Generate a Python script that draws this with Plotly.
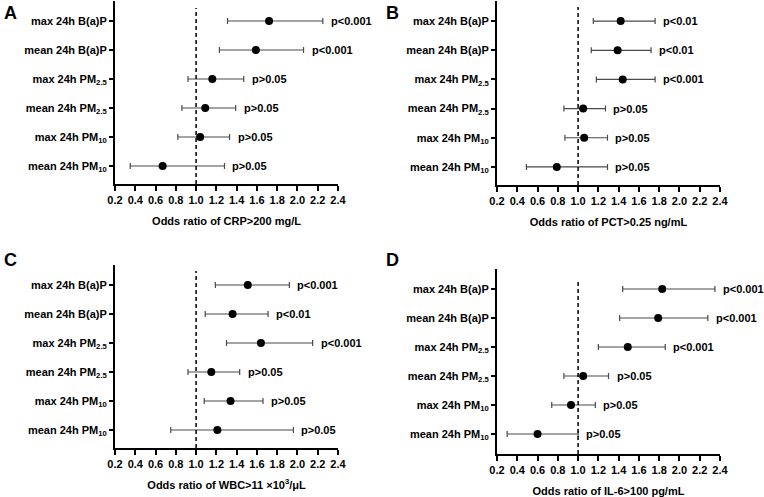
import plotly.graph_objects as go

# row labels, top to bottom
exposures = [
    "max 24h B(a)P",
    "mean 24h B(a)P",
    "max 24h PM<sub>2.5</sub>",
    "mean 24h PM<sub>2.5</sub>",
    "max 24h PM<sub>10</sub>",
    "mean 24h PM<sub>10</sub>",
]

panel_letters = ["A", "B", "C", "D"]
outcomes = [
    "Odds ratio of CRP>200 mg/L",
    "Odds ratio of PCT>0.25 ng/mL",
    "Odds ratio of WBC>11 ×10<sup>3</sup>/μL",
    "Odds ratio of IL-6>100 pg/mL",
]

# odds ratio, lower and upper 95% CI, p labels (per panel)
or_crp = [1.72, 1.59, 1.16, 1.09, 1.04, 0.67]
lo_crp = [1.31, 1.23, 0.92, 0.86, 0.82, 0.35]
hi_crp = [2.25, 2.06, 1.47, 1.39, 1.33, 1.28]
p_crp = ["p<0.001", "p<0.001", "p>0.05", "p>0.05", "p>0.05", "p>0.05"]

or_pct = [1.42, 1.39, 1.44, 1.05, 1.06, 0.79]
lo_pct = [1.15, 1.13, 1.18, 0.86, 0.87, 0.49]
hi_pct = [1.76, 1.72, 1.76, 1.27, 1.29, 1.29]
p_pct = ["p<0.01", "p<0.01", "p<0.001", "p>0.05", "p>0.05", "p>0.05"]

or_wbc = [1.51, 1.36, 1.64, 1.15, 1.34, 1.21]
lo_wbc = [1.19, 1.09, 1.30, 0.92, 1.08, 0.75]
hi_wbc = [1.92, 1.71, 2.15, 1.43, 1.66, 1.96]
p_wbc = ["p<0.001", "p<0.01", "p<0.001", "p>0.05", "p>0.05", "p>0.05"]

or_il6 = [1.83, 1.79, 1.49, 1.05, 0.93, 0.60]
lo_il6 = [1.44, 1.41, 1.20, 0.86, 0.74, 0.30]
hi_il6 = [2.35, 2.28, 1.86, 1.30, 1.17, 1.00]
p_il6 = ["p<0.001", "p<0.001", "p<0.001", "p>0.05", "p>0.05", "p>0.05"]

x_ticks = [0.2, 0.4, 0.6, 0.8, 1.0, 1.2, 1.4, 1.6, 1.8, 2.0, 2.2, 2.4]

panels = [
    (or_crp, lo_crp, hi_crp, p_crp),
    (or_pct, lo_pct, hi_pct, p_pct),
    (or_wbc, lo_wbc, hi_wbc, p_wbc),
    (or_il6, lo_il6, hi_il6, p_il6),
]

W, H = 764, 497
# pixel boxes of each plot area: (left, right, top, bottom)
boxes = [(115, 338, 1, 184), (497, 720, 1, 185), (115, 338, 265, 448), (497, 720, 269, 454)]
y_ranges = [[0.38, 6.69], [0.38, 6.69], [0.38, 6.69], [0.31, 6.69]]
dash_top = [6.45, 6.48, 6.48, 6.31]
letter_pos = [(2, 13), (384, 13), (2, 260), (384, 260)]

ypos = list(range(len(exposures), 0, -1))
family = "Liberation Sans, Arial, sans-serif"
font = dict(family=family, size=11, color="black", weight="bold")

fig = go.Figure()
layout = {}
annotations = []
shapes = []

for i, (ors, los, his, ps) in enumerate(panels):
    n = "" if i == 0 else str(i + 1)
    fig.add_trace(go.Scatter(
        x=ors,
        y=ypos,
        mode="markers",
        marker=dict(color="black", size=8),
        error_x=dict(
            type="data",
            symmetric=False,
            array=[h - o for h, o in zip(his, ors)],
            arrayminus=[o - l for o, l in zip(ors, los)],
            color="#4a4a4a",
            thickness=1.2,
            width=3,
        ),
        xaxis="x" + n,
        yaxis="y" + n,
        showlegend=False,
        hoverinfo="skip",
    ))

    left, right, top, bottom = boxes[i]
    layout["xaxis" + n] = dict(
        domain=[left / W, right / W],
        anchor="y" + n,
        range=[0.2, 2.4],
        tickvals=x_ticks,
        tickformat=".1f",
        tickfont=dict(family=family, size=11, color="black", weight="bold"),
        showline=True,
        linecolor="black",
        linewidth=2,
        ticks="outside",
        ticklen=5,
        tickwidth=2,
        tickcolor="black",
        showgrid=False,
        zeroline=False,
        automargin=False,
        title=dict(
            text=outcomes[i],
            standoff=12,
            font=dict(family=family, size=11, color="black", weight="bold"),
        ),
    )
    layout["yaxis" + n] = dict(
        domain=[1 - bottom / H, 1 - top / H],
        anchor="x" + n,
        range=y_ranges[i],
        tickvals=ypos,
        ticktext=exposures,
        tickfont=dict(family=family, size=11, color="black", weight="bold"),
        showline=True,
        linecolor="black",
        linewidth=2,
        ticks="outside",
        ticklen=4,
        tickwidth=2,
        tickcolor="black",
        showgrid=False,
        zeroline=False,
        automargin=False,
    )

    # reference line at OR = 1
    shapes.append(dict(
        type="line", xref="x" + n, yref="y" + n,
        x0=1, x1=1, y0=y_ranges[i][0], y1=dash_top[i],
        line=dict(color="black", width=1.5, dash="4px,3px"),
    ))

    for y, h, p in zip(ypos, his, ps):
        annotations.append(dict(
            x=h, y=y, xref="x" + n, yref="y" + n,
            text=p, showarrow=False, xanchor="left", xshift=6,
            font=dict(family=family, size=11, color="black", weight="bold"),
        ))

    lx, ly = letter_pos[i]
    annotations.append(dict(
        x=lx / W, y=1 - ly / H, xref="paper", yref="paper",
        text=panel_letters[i], showarrow=False, xanchor="left", yanchor="middle",
        font=dict(family=family, size=18, color="black", weight="bold"),
    ))

fig.update_layout(
    width=W,
    height=H,
    margin=dict(l=0, r=0, t=0, b=0),
    plot_bgcolor="white",
    paper_bgcolor="white",
    font=font,
    annotations=annotations,
    shapes=shapes,
    **layout,
)

# the page's default body margin would push the figure 8px off the window
fig.write_html(
    "out.html",
    config={"displayModeBar": False},
    post_script="document.body.style.margin='0';",
)
